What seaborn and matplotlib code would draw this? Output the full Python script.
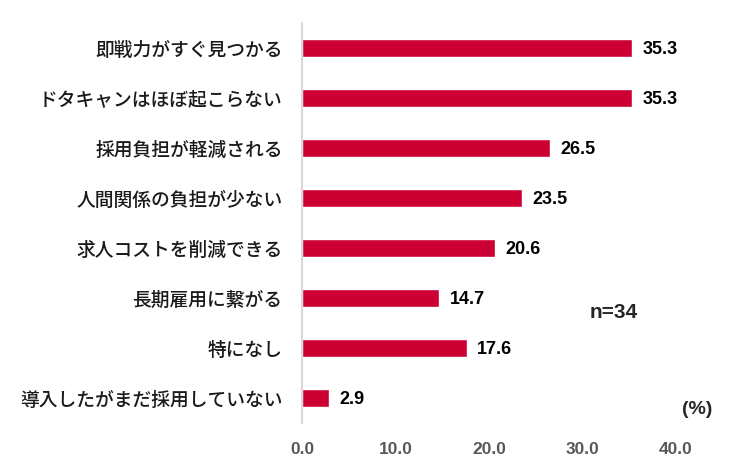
import matplotlib
matplotlib.use("Agg")
import matplotlib.pyplot as plt
import seaborn as sns
import pandas as pd

categories = ["即戦力がすぐ見つかる", "ドタキャンはほぼ起こらない", "採用負担が軽減される",
              "人間関係の負担が少ない", "求人コストを削減できる", "長期雇用に繋がる",
              "特になし", "導入したがまだ採用していない"]
values = [35.3, 35.3, 26.5, 23.5, 20.6, 14.7, 17.6, 2.9]
xticks = [0.0, 10.0, 20.0, 30.0, 40.0]

sns.set_theme(style="white")
plt.rcParams['font.family'] = ['Liberation Sans', 'Noto Sans CJK JP', 'DejaVu Sans']

df = pd.DataFrame({"cat": categories, "val": values})

fig = plt.figure(figsize=(7.32, 4.74), dpi=100)
ax = fig.add_axes([302/732, 1-423/474, 374/732, 400/474])
sns.barplot(data=df, x="val", y="cat", color="#CC0033", width=0.36, ax=ax,
            saturation=1, orient="h")
ax.set_xlim(0, 40)
ax.set_ylim(7.5, -0.5)
ax.set_xlabel("")
ax.set_ylabel("")
for s in ["top", "right", "bottom"]:
    ax.spines[s].set_visible(False)
ax.spines["left"].set_color("#D9D9D9")
ax.spines["left"].set_linewidth(1.5)
ax.set_xticks(xticks)
ax.set_xticklabels([f"{t:.1f}" for t in xticks], fontsize=12.5, fontweight="bold",
                   color="#595959", family=['Liberation Sans'])
ax.tick_params(axis="x", length=0, pad=13.5)
ax.tick_params(axis="y", length=0, pad=14)
for lbl in ax.get_yticklabels():
    lbl.set_family(['Noto Sans CJK JP'])
    lbl.set_fontsize(13.5)
    lbl.set_fontweight("medium")
    lbl.set_color("#1a1a1a")

for i, v in enumerate(values):
    ax.text(v + 1.15, i + 0.04, f"{v:.1f}", va="center", ha="left", fontsize=13,
            fontweight="bold", color="black", family=['Liberation Sans'])

fig.text(590/732, 1-312/474, "n=34", fontsize=15, fontweight="bold",
         va="center", ha="left", family=['Liberation Sans'])
fig.text(712/732, 1-410/474, "(%)", fontsize=14, fontweight="bold",
         va="center", ha="right", family=['Liberation Sans'])

fig.savefig("out.png", dpi=100)
